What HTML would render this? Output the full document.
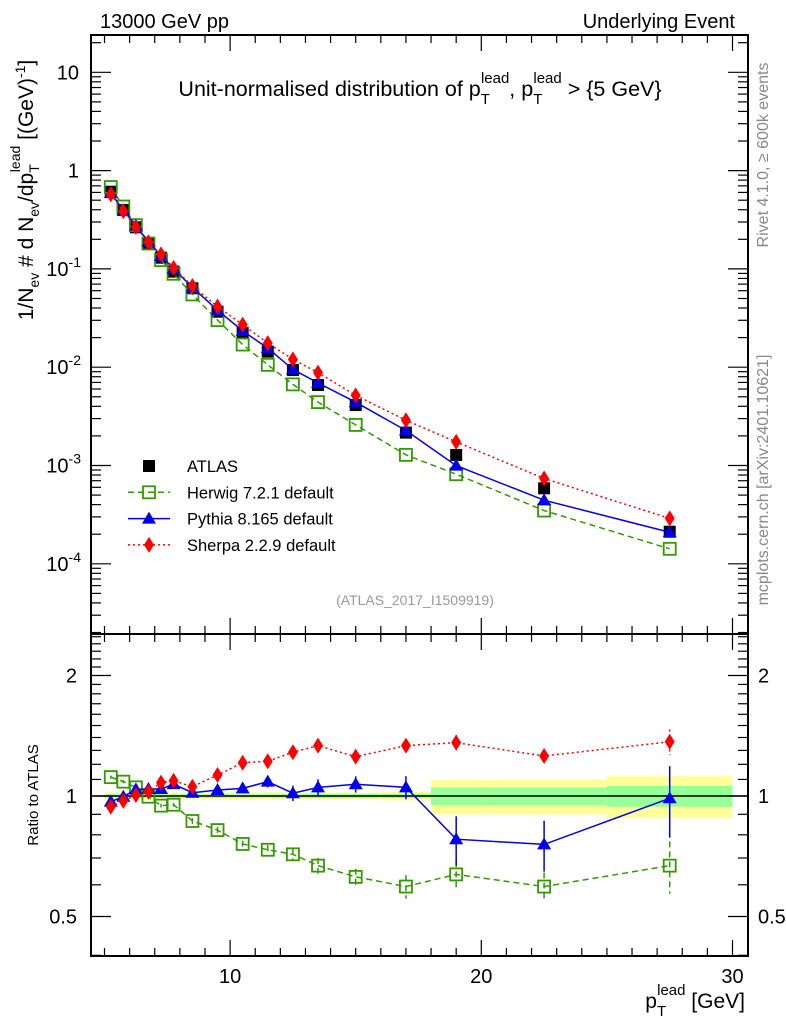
<!DOCTYPE html>
<html><head><meta charset="utf-8"><style>
body{margin:0;background:#fff;}
svg{display:block;font-family:"Liberation Sans",sans-serif;}
</style></head><body>
<svg id="c" width="786" height="1024" viewBox="0 0 786 1024"></svg>
<script>
const xVals=[5.25,5.75,6.25,6.75,7.25,7.75,8.5,9.5,10.5,11.5,12.5,13.5,15,17,19,22.5,27.5];
const atlasVals=[0.61,0.397,0.265,0.182,0.130,0.0938,0.0635,0.0367,0.0224,0.0144,0.00935,0.00659,0.00412,0.00216,0.00128,0.000586,0.000212];
const herwigRatio=[1.115,1.086,1.051,0.996,0.946,0.951,0.866,0.822,0.759,0.734,0.715,0.67,0.628,0.594,0.637,0.594,0.67];
const herwigErr=[0.01,0.01,0.01,0.01,0.01,0.01,0.015,0.015,0.015,0.02,0.025,0.03,0.03,0.04,0.05,0.05,0.1];
const pythiaRatio=[0.968,0.996,1.039,1.041,1.041,1.071,1.019,1.035,1.045,1.086,1.016,1.051,1.07,1.051,0.78,0.757,0.987];
const pythiaErr=[0.01,0.01,0.01,0.01,0.01,0.015,0.015,0.02,0.03,0.035,0.045,0.05,0.05,0.07,0.11,0.11,0.2];
const sherpaRatio=[0.94,0.972,1.006,1.025,1.08,1.092,1.055,1.128,1.211,1.221,1.286,1.336,1.254,1.336,1.359,1.259,1.366];
const sherpaErr=[0.01,0.01,0.01,0.01,0.015,0.015,0.015,0.02,0.03,0.03,0.04,0.04,0.04,0.05,0.06,0.05,0.1];
const binEdges=[5,5.5,6,6.5,7,7.5,8,9,10,11,12,13,14,16,18,20,25,30];
const statBand=[0.01,0.01,0.01,0.01,0.01,0.01,0.01,0.01,0.01,0.01,0.01,0.012,0.012,0.012,0.05,0.05,0.06];
const totBand=[0.02,0.02,0.02,0.02,0.02,0.02,0.02,0.02,0.02,0.02,0.02,0.02,0.02,0.025,0.1,0.1,0.12];

const S='http://www.w3.org/2000/svg';
const svg=document.getElementById('c');
const L=91,R=748,MT=35,MB=634,RB=956;
const X=v=>104.5+(v-5)*25.12;
const YM=v=>72.3+(1-Math.log10(v))*98.3;
const YR=r=>796-Math.log2(r)*120.5;
function el(t,a,p){const e=document.createElementNS(S,t);for(const k in a)e.setAttribute(k,a[k]);(p||svg).appendChild(e);return e;}
function txt(x,y,s,a,name){const e=el('text',Object.assign({x:x,y:y,'font-size':20,fill:'#000'},a||{}));e.innerHTML=s;


return e;}

const bands=el('g',{});


for(let i=0;i<statBand.length;i++){
  const x0=X(binEdges[i]),x1=X(binEdges[i+1]);
  const b1=el('rect',{x:x0,y:YR(1+totBand[i]),width:x1-x0,height:YR(1-totBand[i])-YR(1+totBand[i]),fill:'#ffff99'},bands);
  
  
  const b2=el('rect',{x:x0,y:YR(1+statBand[i]),width:x1-x0,height:YR(1-statBand[i])-YR(1+statBand[i]),fill:'#99ff99'},bands);
  
  
}
const one=el('line',{x1:L,x2:R,y1:YR(1),y2:YR(1),stroke:'#000','stroke-width':1.5});



const f1=el('rect',{x:L,y:MT,width:R-L,height:MB-MT,fill:'none',stroke:'#000','stroke-width':2});


const f2=el('rect',{x:L,y:MB,width:R-L,height:RB-MB,fill:'none',stroke:'#000','stroke-width':2});



const tk=el('g',{stroke:'#000','stroke-width':1.2});


for(let v=5;v<=30;v++){
  const len=(v%10==0)?16:8,x=X(v);
  for(const [y,d] of [[MT,1],[MB,-1],[MB,1],[RB,-1]]) el('line',{x1:x,x2:x,y1:y,y2:y+d*len},tk);
}
for(let e=-5;e<=1;e++){for(let m=1;m<10;m++){const v=m*Math.pow(10,e);const y=YM(v);if(y<MT||y>MB)continue;const len=m==1?20:10;
  el('line',{x1:L,x2:L+len,y1:y,y2:y},tk);el('line',{x1:R,x2:R-len,y1:y,y2:y},tk);}}
for(const v of [0.4,0.5,0.6,0.7,0.8,0.9,1,1.1,1.2,1.3,1.4,1.5,1.6,1.7,1.8,1.9,2,2.1,2.2,2.3,2.4,2.5]){const y=YR(v);if(y<MB||y>RB)continue;const len=(v==0.5||v==1||v==2)?20:10;
  el('line',{x1:L,x2:L+len,y1:y,y2:y},tk);el('line',{x1:R,x2:R-len,y1:y,y2:y},tk);}

const mainLbl=[['10',1],['1',0]];
for(const [s,e] of mainLbl) txt(L-12,YM(Math.pow(10,e))+7,s,{'text-anchor':'end'},'y-tick-label');
for(const e of [-1,-2,-3,-4]) txt(L-10,YM(Math.pow(10,e))+7,'10<tspan dy="-9" font-size="14">'+e+'</tspan>',{'text-anchor':'end'},'y-tick-label');
for(const v of [2,1,0.5]){txt(L-14,YR(v)+7,String(v),{'text-anchor':'end'},'ratio-y-tick-label');txt(R+10,YR(v)+7,String(v),{},'ratio-y-tick-label');}
for(const v of [10,20,30]) txt(X(v),983,String(v),{'text-anchor':'middle'},'x-tick-label');

const series=[
 {name:'herwig',ratio:herwigRatio,err:herwigErr,color:'#339900',dash:'6,4',mk:'osq'},
 {name:'pythia',ratio:pythiaRatio,err:pythiaErr,color:'#0000ee',dash:'',mk:'tri'},
 {name:'sherpa',ratio:sherpaRatio,err:sherpaErr,color:'#ff0000',dash:'2,3',mk:'dia'}];
function marker(g,type,x,y,c){
  if(type=='osq')return el('rect',{x:x-6,y:y-6,width:12,height:12,fill:'none',stroke:c,'stroke-width':1.8},g);
  if(type=='sq')return el('rect',{x:x-6,y:y-6,width:12,height:12,fill:c},g);
  if(type=='tri')return el('polygon',{points:`${x},${y-7} ${x-7},${y+5} ${x+7},${y+5}`,fill:c},g);
  return el('polygon',{points:`${x},${y-8} ${x-5},${y} ${x},${y+8} ${x+5},${y}`,fill:c},g);
}
const ag=el('g',{});


xVals.forEach((x,i)=>{const m=marker(ag,'sq',X(x),YM(atlasVals[i]),'#000');

});
series.forEach(s=>{
  const gm=el('g',{});
  
  
  const gr=el('g',{});
  
  
  const pm=xVals.map((x,i)=>X(x)+','+YM(atlasVals[i]*s.ratio[i])).join(' ');
  const pr=xVals.map((x,i)=>X(x)+','+YR(s.ratio[i])).join(' ');
  el('polyline',{points:pm,fill:'none',stroke:s.color,'stroke-width':1.5,'stroke-dasharray':s.dash},gm);
  el('polyline',{points:pr,fill:'none',stroke:s.color,'stroke-width':1.5,'stroke-dasharray':s.dash},gr);
  xVals.forEach((x,i)=>{
    const xx=X(x);
    el('line',{x1:xx,x2:xx,y1:YR(s.ratio[i]+s.err[i]),y2:YR(s.ratio[i]-s.err[i]),stroke:s.color,'stroke-width':1.5,'stroke-dasharray':s.dash},gr);
    const m1=marker(gm,s.mk,xx,YM(atlasVals[i]*s.ratio[i]),s.color);
    
    
    const m2=marker(gr,s.mk,xx,YR(s.ratio[i]),s.color);
    
    
  });
});

const lg=el('g',{});


const legendItems=[['ATLAS','sq','#000',null],['Herwig 7.2.1 default','osq','#339900','6,4'],['Pythia 8.165 default','tri','#0000ee',''],['Sherpa 2.2.9 default','dia','#ff0000','2,3']];
legendItems.forEach((it,i)=>{
  const y=466+i*26.3;
  if(it[3]!==null) el('line',{x1:128,x2:170,y1:y,y2:y,stroke:it[2],'stroke-width':1.5,'stroke-dasharray':it[3]},lg);
  marker(lg,it[1],149,y,it[2]);
  const t=txt(187,y+6,it[0],{'font-size':16.5},'legend-entry');
  lg.appendChild(t);
});

txt(100,28,'13000 GeV pp',{},'energy-label');
txt(735,28,'Underlying Event',{'text-anchor':'end'},'process-label');
txt(420,96,'Unit-normalised distribution of p<tspan dy="8" font-size="15">T</tspan><tspan dy="-21" dx="-9" font-size="15">lead</tspan><tspan dy="13">, p</tspan><tspan dy="8" font-size="15">T</tspan><tspan dy="-21" dx="-9" font-size="15">lead</tspan><tspan dy="13"> &gt; {5 GeV}</tspan>',{'text-anchor':'middle','font-size':21.5},'plot-title');
txt(415,605,'(ATLAS_2017_I1509919)',{'text-anchor':'middle','font-size':14,fill:'#999'},'analysis-id');
txt(0,0,'Rivet 4.1.0, ≥ 600k events',{'font-size':16,fill:'#888','text-anchor':'middle',transform:'translate(768,155) rotate(-90)'},'rivet-version-label');
txt(0,0,'mcplots.cern.ch [arXiv:2401.10621]',{'font-size':16,fill:'#888','text-anchor':'middle',transform:'translate(768,480) rotate(-90)'},'mcplots-label');
txt(0,0,'1/N<tspan dy="6" font-size="14">ev</tspan><tspan dy="-6"> # d N</tspan><tspan dy="6" font-size="14">ev</tspan><tspan dy="-6">/dp</tspan><tspan dy="6" font-size="14">T</tspan><tspan dy="-19" dx="-8" font-size="14">lead</tspan><tspan dy="13"> [(GeV)</tspan><tspan dy="-8" font-size="14">-1</tspan><tspan dy="8">]</tspan>',{'text-anchor':'middle','font-size':21,transform:'translate(33,190) rotate(-90)'},'y-axis-title');
txt(0,0,'Ratio to ATLAS',{'text-anchor':'middle','font-size':15,transform:'translate(38,795) rotate(-90)'},'ratio-axis-title');
txt(745,1008,'p<tspan dy="8" font-size="15">T</tspan><tspan dy="-21" dx="-9" font-size="15">lead</tspan><tspan dy="13"> [GeV]</tspan>',{'text-anchor':'end','font-size':21},'x-axis-title');
</script>
</body></html>
